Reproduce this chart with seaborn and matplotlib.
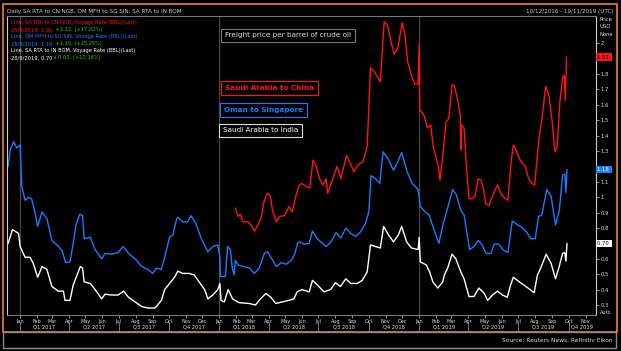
import pandas as pd
import seaborn as sns
import matplotlib.pyplot as plt
import matplotlib.dates as mdates
from matplotlib.patches import Rectangle

# Freight price per barrel of crude oil (USD)
china_dates = [
    "2018-01-30", "2018-02-04", "2018-02-08", "2018-02-13", "2018-02-22", "2018-02-28",
    "2018-03-06", "2018-03-12", "2018-03-18", "2018-03-24", "2018-03-30", "2018-04-04",
    "2018-04-08", "2018-04-15", "2018-04-21", "2018-04-30", "2018-05-08", "2018-05-14",
    "2018-05-20", "2018-05-26", "2018-05-31", "2018-06-09", "2018-06-15", "2018-06-21",
    "2018-06-27", "2018-07-03", "2018-07-09", "2018-07-15", "2018-07-18", "2018-07-27",
    "2018-08-04", "2018-08-11", "2018-08-21", "2018-08-27", "2018-09-04", "2018-09-11",
    "2018-09-20", "2018-09-28", "2018-10-04", "2018-10-11", "2018-10-17", "2018-10-22",
    "2018-10-29", "2018-11-04", "2018-11-10", "2018-11-16", "2018-11-23", "2018-12-01",
    "2018-12-06", "2018-12-11", "2018-12-17", "2018-12-24", "2018-12-30", "2019-01-01",
    "2019-01-02", "2019-01-10", "2019-01-16", "2019-01-22", "2019-01-27", "2019-01-31",
    "2019-02-05", "2019-02-08", "2019-02-14", "2019-02-19", "2019-02-24", "2019-03-02",
    "2019-03-06", "2019-03-12", "2019-03-17", "2019-03-18", "2019-03-19", "2019-03-24",
    "2019-03-28", "2019-04-02", "2019-04-08", "2019-04-13", "2019-04-19", "2019-04-24",
    "2019-04-28", "2019-05-03", "2019-05-09", "2019-05-15", "2019-05-24", "2019-05-30",
    "2019-06-06", "2019-06-12", "2019-06-18", "2019-06-22", "2019-06-28", "2019-07-06",
    "2019-07-14", "2019-07-20", "2019-07-26", "2019-07-31", "2019-08-03", "2019-08-08",
    "2019-08-14", "2019-08-20", "2019-08-26", "2019-09-01", "2019-09-06", "2019-09-10",
    "2019-09-15", "2019-09-20", "2019-09-23", "2019-09-25", "2019-09-27",
]
china_values = [
    0.93, 0.875, 0.89, 0.84, 0.84, 0.82,
    0.78, 0.82, 0.86, 0.98, 1.025, 1.01,
    0.915, 0.84, 0.875, 0.88, 0.94, 0.905,
    1.00, 1.07, 1.09, 1.07, 1.06, 1.24,
    1.20, 1.12, 1.08, 1.12, 1.025, 1.12,
    1.20, 1.12, 1.27, 1.23, 1.165, 1.21,
    1.23, 1.33, 1.84, 1.815, 1.78, 1.75,
    2.14, 2.12, 2.02, 1.93, 1.97, 2.135,
    2.05, 1.88, 1.80, 1.735, 1.735, 1.99,
    1.57, 1.53, 1.45, 1.47, 1.32, 1.27,
    1.20, 1.11, 1.30, 1.49, 1.51, 1.73,
    1.725, 1.64, 1.53, 1.31, 1.47, 1.45,
    1.21, 0.99, 0.99, 1.01, 1.12, 1.11,
    1.06, 0.955, 0.95, 1.01, 1.08, 1.025,
    0.995, 0.98, 1.23, 1.34, 1.295, 1.23,
    1.20, 1.12, 1.09, 1.08, 1.20, 1.39,
    1.53, 1.72, 1.66, 1.49, 1.295, 1.33,
    1.62, 1.78, 1.79, 1.63, 1.91,
]

oman_dates = [
    "2016-12-11", "2016-12-15", "2016-12-21", "2016-12-27", "2017-01-02", "2017-01-05",
    "2017-01-11", "2017-01-17", "2017-01-23", "2017-01-28", "2017-02-03", "2017-02-11",
    "2017-02-20", "2017-03-01", "2017-03-13", "2017-03-20", "2017-03-26", "2017-04-03",
    "2017-04-09", "2017-04-14", "2017-04-21", "2017-04-26", "2017-04-29", "2017-05-10",
    "2017-05-19", "2017-05-31", "2017-06-06", "2017-06-18", "2017-06-30", "2017-07-09",
    "2017-07-19", "2017-07-31", "2017-08-12", "2017-08-24", "2017-09-01", "2017-09-08",
    "2017-09-17", "2017-09-23", "2017-10-02", "2017-10-08", "2017-10-15", "2017-10-17",
    "2017-10-26", "2017-11-04", "2017-11-10", "2017-11-19", "2017-11-29", "2017-12-11",
    "2017-12-20", "2017-12-29", "2018-01-02", "2018-01-03", "2018-01-12", "2018-01-16",
    "2018-01-21", "2018-01-25", "2018-01-28", "2018-01-30", "2018-02-04", "2018-02-13",
    "2018-02-25", "2018-03-06", "2018-03-15", "2018-03-24", "2018-03-30", "2018-04-05",
    "2018-04-15", "2018-04-24", "2018-05-03", "2018-05-12", "2018-05-18", "2018-05-24",
    "2018-05-27", "2018-06-05", "2018-06-14", "2018-06-20", "2018-06-29", "2018-07-15",
    "2018-07-24", "2018-08-02", "2018-08-11", "2018-08-20", "2018-08-29", "2018-09-07",
    "2018-09-16", "2018-09-25", "2018-10-01", "2018-10-05", "2018-10-13", "2018-10-21",
    "2018-10-27", "2018-11-05", "2018-11-15", "2018-11-23", "2018-11-30", "2018-12-10",
    "2018-12-19", "2018-12-30", "2019-01-03", "2019-01-12", "2019-01-19", "2019-01-27",
    "2019-02-06", "2019-02-14", "2019-02-22", "2019-03-03", "2019-03-10", "2019-03-18",
    "2019-03-24", "2019-04-03", "2019-04-11", "2019-04-19", "2019-04-26", "2019-05-03",
    "2019-05-12", "2019-05-18", "2019-05-26", "2019-06-03", "2019-06-12", "2019-06-20",
    "2019-06-30", "2019-07-09", "2019-07-16", "2019-07-24", "2019-08-01", "2019-08-07",
    "2019-08-13", "2019-08-22", "2019-08-30", "2019-09-07", "2019-09-14", "2019-09-20",
    "2019-09-24", "2019-09-26", "2019-09-28",
]
oman_values = [
    1.20, 1.31, 1.36, 1.32, 1.34, 1.07,
    0.98, 1.00, 0.99, 0.92, 0.81, 0.905,
    0.86, 0.72, 0.68, 0.65, 0.575, 0.58,
    0.70, 0.82, 0.89, 0.88, 0.73, 0.74,
    0.66, 0.60, 0.635, 0.63, 0.64, 0.68,
    0.635, 0.60, 0.55, 0.53, 0.505, 0.54,
    0.53, 0.61, 0.74, 0.755, 0.86, 0.87,
    0.84, 0.84, 0.88, 0.83, 0.73, 0.645,
    0.68, 0.69, 0.61, 0.485, 0.485, 0.68,
    0.66, 0.53, 0.495, 0.59, 0.56, 0.55,
    0.54, 0.505, 0.54, 0.635, 0.645, 0.61,
    0.55, 0.575, 0.565, 0.59, 0.625, 0.70,
    0.71, 0.695, 0.70, 0.78, 0.73, 0.68,
    0.71, 0.77, 0.735, 0.80, 0.765, 0.745,
    0.775, 0.83, 0.905, 1.14, 1.12, 1.09,
    1.295, 1.25, 1.175, 1.23, 1.29, 1.165,
    1.09, 1.05, 0.94, 0.905, 0.885, 0.80,
    0.70, 0.83, 0.93, 1.05, 1.015, 0.915,
    0.885, 0.66, 0.68, 0.72, 0.69, 0.635,
    0.635, 0.695, 0.695, 0.66, 0.64, 0.845,
    0.82, 0.80, 0.775, 0.73, 0.73, 0.875,
    0.885, 1.05, 1.005, 0.82, 0.915, 1.145,
    1.15, 1.03, 1.18,
]

india_dates = [
    "2016-12-11", "2016-12-19", "2016-12-30", "2017-01-02", "2017-01-11", "2017-01-20",
    "2017-01-26", "2017-02-03", "2017-02-11", "2017-02-20", "2017-03-01", "2017-03-13",
    "2017-03-22", "2017-03-25", "2017-04-03", "2017-04-09", "2017-04-16", "2017-04-22",
    "2017-04-26", "2017-04-29", "2017-05-10", "2017-05-19", "2017-05-31", "2017-06-06",
    "2017-06-18", "2017-06-30", "2017-07-10", "2017-07-19", "2017-07-31", "2017-08-12",
    "2017-08-24", "2017-09-05", "2017-09-08", "2017-09-17", "2017-09-23", "2017-10-02",
    "2017-10-11", "2017-10-17", "2017-10-26", "2017-11-07", "2017-11-16", "2017-11-25",
    "2017-12-05", "2017-12-11", "2017-12-20", "2017-12-29", "2018-01-02", "2018-01-04",
    "2018-01-10", "2018-01-17", "2018-01-25", "2018-02-06", "2018-02-24", "2018-03-08",
    "2018-03-17", "2018-03-27", "2018-04-05", "2018-04-14", "2018-04-26", "2018-05-08",
    "2018-05-17", "2018-05-23", "2018-06-01", "2018-06-14", "2018-06-20", "2018-06-29",
    "2018-07-11", "2018-07-23", "2018-08-01", "2018-08-10", "2018-08-20", "2018-08-29",
    "2018-09-10", "2018-09-19", "2018-09-28", "2018-10-04", "2018-10-13", "2018-10-22",
    "2018-10-28", "2018-11-06", "2018-11-15", "2018-11-24", "2018-11-30", "2018-12-09",
    "2018-12-18", "2018-12-30", "2019-01-01", "2019-01-03", "2019-01-14", "2019-01-20",
    "2019-01-26", "2019-02-04", "2019-02-13", "2019-02-16", "2019-02-22", "2019-03-02",
    "2019-03-09", "2019-03-18", "2019-03-24", "2019-04-02", "2019-04-11", "2019-04-20",
    "2019-04-30", "2019-05-06", "2019-05-15", "2019-05-24", "2019-06-02", "2019-06-11",
    "2019-06-17", "2019-06-22", "2019-07-03", "2019-07-15", "2019-07-30", "2019-08-05",
    "2019-08-11", "2019-08-21", "2019-08-30", "2019-09-07", "2019-09-13", "2019-09-20",
    "2019-09-24", "2019-09-26", "2019-09-28",
]
india_values = [
    0.70, 0.79, 0.765, 0.68, 0.61, 0.61,
    0.57, 0.48, 0.55, 0.53, 0.42, 0.39,
    0.39, 0.33, 0.33, 0.43, 0.495, 0.55,
    0.54, 0.45, 0.44, 0.40, 0.34, 0.37,
    0.365, 0.365, 0.39, 0.35, 0.32, 0.29,
    0.28, 0.28, 0.29, 0.33, 0.40, 0.44,
    0.48, 0.52, 0.505, 0.505, 0.495, 0.45,
    0.40, 0.34, 0.365, 0.40, 0.44, 0.33,
    0.32, 0.40, 0.34, 0.315, 0.31, 0.30,
    0.34, 0.375, 0.35, 0.31, 0.32, 0.33,
    0.34, 0.385, 0.40, 0.385, 0.46, 0.43,
    0.385, 0.40, 0.445, 0.42, 0.47, 0.44,
    0.44, 0.46, 0.515, 0.69, 0.68, 0.67,
    0.81, 0.755, 0.71, 0.755, 0.81, 0.71,
    0.67, 0.66, 0.74, 0.58, 0.56, 0.515,
    0.45, 0.41, 0.45, 0.495, 0.54, 0.63,
    0.60, 0.515, 0.47, 0.355, 0.355, 0.41,
    0.375, 0.33, 0.365, 0.39, 0.365, 0.35,
    0.43, 0.48, 0.45, 0.42, 0.38, 0.495,
    0.54, 0.63, 0.57, 0.47, 0.54, 0.635,
    0.64, 0.585, 0.70,
]

routes = ["Saudi Arabia to China", "Oman to Singapore", "Saudi Arabia to India"]
colors = ["#ff1414", "#1a7cff", "#ffffff"]
last_labels = ["1.91", "1.18", "0.70"]
last_values = [1.91, 1.18, 0.70]
legend_names = [
    "Line, SA RTA to CN NGB, Voyage Rate (BBL)(Last)",
    "Line, OM MFH to SG SIN, Voyage Rate (BBL)(Last)",
    "Line, SA RTA to IN BOM, Voyage Rate (BBL)(Last)",
]
legend_last = ["28/9/2019, 1.91,", "28/9/2019, 1.18,", "28/9/2019, 0.70"]
legend_change = [" +2.12, (+17.82%)", " +1.15, (+15.25%)", " +0.00, (+10.18%)"]

frames = []
for name, d, v in zip(routes, [china_dates, oman_dates, india_dates],
                      [china_values, oman_values, india_values]):
    frames.append(pd.DataFrame({"date": pd.to_datetime(d), "price": v, "route": name}))
df = pd.concat(frames, ignore_index=True)

sns.set_style("dark", {"axes.facecolor": "black", "figure.facecolor": "black"})

W, H = 621, 351
def fx(px):
    return px / W
def fy(py):
    return 1 - py / H

fig = plt.figure(figsize=(6.21, 3.51), dpi=100, facecolor="black")
ax = fig.add_axes([fx(7), fy(315), fx(596) - fx(7), fy(16) - fy(315)])
ax.set_facecolor("black")

x0, x1 = pd.Timestamp("2016-12-09"), pd.Timestamp("2019-11-20")
for yr in ["2017-01-01", "2018-01-01", "2019-01-01"]:
    ax.axvline(pd.Timestamp(yr), color="#4a4a4a", lw=0.8, zorder=0)

sns.lineplot(data=df, x="date", y="price", hue="route", hue_order=routes,
             palette=dict(zip(routes, colors)), estimator=None, linewidth=1.0,
             legend=False, ax=ax)

ax.set_xlim(x0, x1)
ax.set_ylim(0.235, 2.177)
ax.set_xlabel("")
ax.set_ylabel("")

# right-hand price axis
ax.yaxis.tick_right()
ticks = [round(0.3 + 0.1 * i, 1) for i in range(18)]
ax.set_yticks(ticks)
ax.set_yticklabels(["" if t in (1.9, 1.2, 0.7) else f"{t:g}" for t in ticks])
ax.tick_params(axis="y", colors="#aaaaaa", labelcolor="#dddddd", labelsize=3.8,
               length=2.2, width=0.6, pad=1.2, direction="out", right=True, left=False)

# months on the bottom axis, quarters underneath
ax.xaxis.set_major_locator(mdates.MonthLocator())
ax.xaxis.set_major_formatter(mdates.DateFormatter("%b"))
ax.tick_params(axis="x", colors="#aaaaaa", labelcolor="#dddddd", labelsize=3.5,
               length=2.0, width=0.6, pad=0.8, bottom=True)

xt = ax.get_xaxis_transform()
for year in [2017, 2018, 2019]:
    for q in range(4):
        start = pd.Timestamp(year=year, month=3 * q + 1, day=1)
        end = min(start + pd.DateOffset(months=3), x1)
        ax.plot([start, start], [-0.025, -0.055], transform=xt, clip_on=False,
                color="#888888", lw=0.6)
        ax.text(start + (end - start) / 2, -0.041, f"Q{q + 1} {year}", transform=xt,
                ha="center", va="center", fontsize=3.7, color="#dddddd")

for side in ["top", "bottom"]:
    ax.spines[side].set_color("#777777")
    ax.spines[side].set_linewidth(0.8)
for side in ["left", "right"]:
    ax.spines[side].set_color("#cccccc")
    ax.spines[side].set_linewidth(0.8)
    ax.spines[side].set_visible(True)
ax.grid(False)

# last-value boxes on the price axis
box_text = ["black", "white", "black"]
for lab, val, c, tc in zip(last_labels, last_values, colors, box_text):
    ax.annotate(lab + " ", xy=(1, val), xycoords=("axes fraction", "data"),
                xytext=(1.0, 0), textcoords="offset points", ha="left", va="center",
                fontsize=3.8, color=tc, annotation_clip=False,
                bbox=dict(boxstyle="square,pad=0.25", fc=c, ec="none"))

for i, s in enumerate(["Price", "USD", "None"]):
    fig.text(fx(600), fy(19.5 + 7.5 * i), s, fontsize=3.8, color="#dddddd", va="center")
fig.text(fx(600), fy(312), "Auto", fontsize=3.6, color="#dddddd", va="center")

# header
fig.text(fx(7), fy(11.5), "Daily SA RTA to CN NGB, OM MFH to SG SIN, SA RTA to IN BOM",
         fontsize=4.1, color="#cccccc", va="center")
fig.text(fx(614), fy(11.5), "10/12/2016 - 19/11/2019 (UTC)", fontsize=4.1,
         color="#cccccc", va="center", ha="right")

# legend lines
for i, (name, last, chg, c) in enumerate(zip(legend_names, legend_last, legend_change, colors)):
    fig.text(fx(11), fy(25 + 14 * i), name, fontsize=3.7, color=c, va="bottom")
    t = fig.text(fx(11), fy(32 + 14 * i), last, fontsize=3.7, color=c, va="bottom")
    ax.annotate(chg, xy=(1, 0), xycoords=t, va="bottom", ha="left",
                fontsize=3.7, color="#22cc22", annotation_clip=False)

# route labels
labels = [("Freight price per barrel of crude oil", "#dddddd", "#777777", 35.5, 225, "normal"),
          ("Saudi Arabia to China", "#ff1414", "#ff1414", 88, 225, "bold"),
          ("Oman to Singapore", "#1a7cff", "#1a7cff", 110, 224, "bold"),
          ("Saudi Arabia to India", "#ffffff", "#dddddd", 130.5, 223, "normal")]
for s, tc, ec, py, px, w in labels:
    fig.text(fx(px), fy(py), s, fontsize=5.2, color=tc, va="center", ha="left",
             fontweight=w, bbox=dict(boxstyle="square,pad=0.55", fc="black", ec=ec, lw=0.8))

# frames and footer
fig.add_artist(Rectangle((fx(3), fy(332)), fx(617) - fx(3), fy(4) - fy(332),
                         transform=fig.transFigure, fill=False, ec="#e8871e", lw=1.2))
fig.add_artist(Rectangle((fx(3), fy(348)), fx(616) - fx(3), fy(332) - fy(348),
                         transform=fig.transFigure, fill=False, ec="#8a8a8a", lw=1.0))
fig.text(fx(613), fy(340), "Source: Reuters News, Refinitiv Eikon", fontsize=4.2,
         color="#dddddd", va="center", ha="right")

fig.savefig("out.png", dpi=100, facecolor="black")
